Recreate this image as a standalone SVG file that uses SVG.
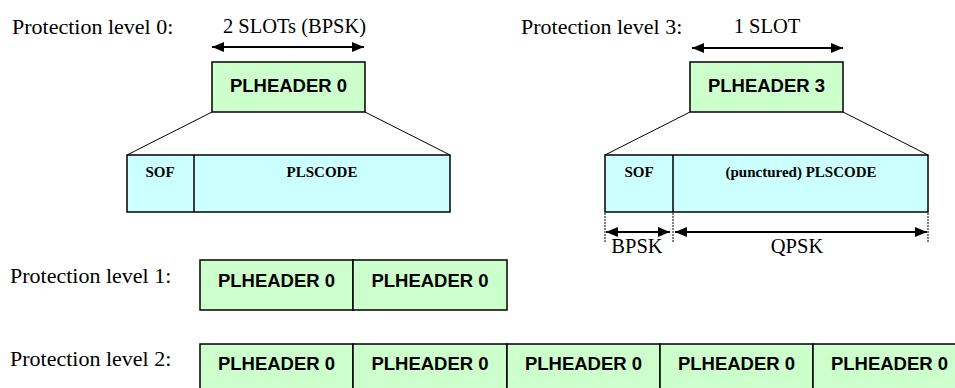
<svg xmlns="http://www.w3.org/2000/svg" width="955" height="388" viewBox="0 0 955 388">
<defs>
<marker id="ah" viewBox="0 0 12 10" refX="12" refY="5" markerWidth="12" markerHeight="10" markerUnits="userSpaceOnUse" orient="auto-start-reverse">
<path d="M0,0 L12,5 L0,10 z" fill="#000"/>
</marker>
<style>
.lbl{font-family:"Liberation Serif","Times New Roman",serif;font-size:22px;fill:#000}
.dim{font-family:"Liberation Serif","Times New Roman",serif;font-size:20.5px;fill:#000;text-anchor:middle}
.hdr{fill:#CCFFCC;stroke:#000;stroke-width:1.5}
.fld{fill:#CCFFFF;stroke:#000;stroke-width:1.5}
.ht{font-family:"Liberation Sans",Arial,sans-serif;font-weight:bold;font-size:18.5px;fill:#000;text-anchor:middle}
.ft{font-family:"Liberation Serif","Times New Roman",serif;font-weight:bold;font-size:15px;fill:#000;text-anchor:middle}
.thin{stroke:#000;stroke-width:1;fill:none}
.arr{stroke:#000;stroke-width:2;fill:none;marker-start:url(#ah);marker-end:url(#ah)}
.tick{stroke:#000;stroke-width:1;stroke-dasharray:2 1;fill:none}
</style>
</defs>
<rect width="955" height="388" fill="#fff"/>

<g id="labels">
<text class="lbl" x="12" y="34">Protection level 0:</text>
<text class="lbl" x="521" y="34">Protection level 3:</text>
<text class="lbl" x="10" y="283">Protection level 1:</text>
<text class="lbl" x="10" y="366">Protection level 2:</text>
<text class="dim" x="294.5" y="33">2 SLOTs (BPSK)</text>
<text class="dim" x="767" y="33">1 SLOT</text>
<text class="dim" x="637" y="253">BPSK</text>
<text class="dim" x="797" y="253">QPSK</text>
</g>

<g id="connectors">
<line class="thin" x1="212" y1="112" x2="127" y2="155"/>
<line class="thin" x1="365" y1="112" x2="450" y2="155"/>
<line class="thin" x1="690" y1="112" x2="605" y2="155"/>
<line class="thin" x1="843" y1="112" x2="928" y2="155"/>
<line class="arr" x1="212" y1="47" x2="364" y2="47"/>
<line class="arr" x1="692" y1="48" x2="843" y2="48"/>
<line class="tick" x1="605" y1="213" x2="605" y2="242"/>
<line class="tick" x1="673" y1="213" x2="673" y2="242"/>
<line class="tick" x1="928" y1="213" x2="928" y2="242"/>
<line class="arr" x1="606" y1="232" x2="670" y2="232"/>
<line class="arr" x1="675" y1="232" x2="927" y2="232"/>
</g>

<g id="plheader0-top">
<rect class="hdr" x="212" y="62" width="153" height="50"/>
<text class="ht" x="288.5" y="92">PLHEADER 0</text>
</g>
<g id="plheader3-top">
<rect class="hdr" x="690" y="62" width="153" height="50"/>
<text class="ht" x="766.5" y="92">PLHEADER 3</text>
</g>

<g id="fields-0">
<rect class="fld" x="127" y="155" width="323" height="57"/>
<line stroke="#000" stroke-width="1.5" x1="194" y1="155" x2="194" y2="212"/>
<text class="ft" x="160" y="177">SOF</text>
<text class="ft" x="322" y="177">PLSCODE</text>
</g>
<g id="fields-3">
<rect class="fld" x="605" y="155" width="323" height="57"/>
<line stroke="#000" stroke-width="1.5" x1="673" y1="155" x2="673" y2="212"/>
<text class="ft" x="639" y="177">SOF</text>
<text class="ft" x="801" y="177">(punctured) PLSCODE</text>
</g>

<g id="level1">
<rect class="hdr" x="200" y="260" width="153" height="50"/>
<rect class="hdr" x="353" y="260" width="154" height="50"/>
<text class="ht" x="276.5" y="287">PLHEADER 0</text>
<text class="ht" x="430" y="287">PLHEADER 0</text>
</g>

<g id="level2">
<rect class="hdr" x="200" y="344" width="153" height="60"/>
<rect class="hdr" x="353" y="344" width="154" height="60"/>
<rect class="hdr" x="507" y="344" width="153" height="60"/>
<rect class="hdr" x="660" y="344" width="153" height="60"/>
<rect class="hdr" x="813" y="344" width="160" height="60"/>
<text class="ht" x="276.5" y="370">PLHEADER 0</text>
<text class="ht" x="430" y="370">PLHEADER 0</text>
<text class="ht" x="583.5" y="370">PLHEADER 0</text>
<text class="ht" x="736.5" y="370">PLHEADER 0</text>
<text class="ht" x="889.5" y="370">PLHEADER 0</text>
</g>
</svg>
